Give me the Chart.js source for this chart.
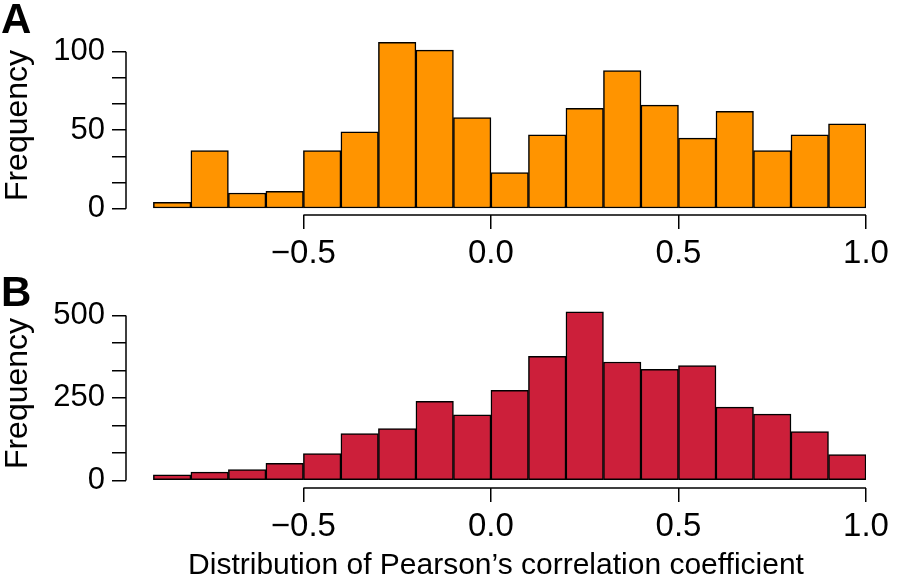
<!DOCTYPE html>
<html lang="en">
<head>
  <meta charset="UTF-8" />
  <title>Distribution of Pearson's correlation coefficient</title>
  <script src="https://cdn.jsdelivr.net/npm/chart.js"></script>
  <style>
    body { margin: 0; background: #fff; }
    #wrap { position: relative; width: 897px; height: 583px; }
    .panel { position: absolute; left: 0; width: 897px; }
  </style>
</head>
<body>
  <div id="wrap">
    <div class="panel" style="top:0;height:270px"><canvas id="histA"></canvas></div>
    <div class="panel" style="top:270px;height:313px"><canvas id="histB"></canvas></div>
  </div>

  <script>
    // bin centres (bins of width 0.1 from -0.9 to 1.0)
    const binCenters = [-0.85, -0.75, -0.65, -0.55, -0.45, -0.35, -0.25, -0.15, -0.05,
                        0.05, 0.15, 0.25, 0.35, 0.45, 0.55, 0.65, 0.75, 0.85, 0.95];
    const freqA = [4, 37, 10, 11, 37, 49, 106, 101, 58, 23, 47, 64, 88, 66, 45, 62, 37, 47, 54];
    const freqB = [17, 25, 33, 52, 81, 142, 157, 240, 199, 273, 376, 511, 359, 337, 348, 222, 201, 148, 78];

    const xTicks = [-0.5, 0, 0.5, 1.0];
    const xLabels = ['\u22120.5', '0.0', '0.5', '1.0'];
    const yTicksA = [0, 16.67, 33.33, 50, 66.67, 83.33, 100];
    const yLabelsA = ['0', '', '', '50', '', '', '100'];
    const yTicksB = [0, 83.33, 166.67, 250, 333.33, 416.67, 500];
    const yLabelsB = ['0', '', '', '250', '', '', '500'];

    const FONT = "'Liberation Sans', Arial, Helvetica, sans-serif";

    // R-style axes: line only spans the tick range, plus the panel letter
    const rAxes = {
      id: 'rAxes',
      afterDraw(chart, args, opts) {
        const ctx = chart.ctx;
        const x = chart.scales.x, y = chart.scales.y;
        ctx.save();
        ctx.strokeStyle = '#000';
        ctx.lineWidth = 1.5;
        ctx.beginPath();
        ctx.moveTo(x.getPixelForValue(xTicks[0]), x.top);
        ctx.lineTo(x.getPixelForValue(xTicks[xTicks.length - 1]), x.top);
        const yt = y.ticks;
        ctx.moveTo(y.right, y.getPixelForValue(yt[0].value));
        ctx.lineTo(y.right, y.getPixelForValue(yt[yt.length - 1].value));
        ctx.stroke();
        ctx.fillStyle = '#000';
        ctx.font = 'bold 42px ' + FONT;
        ctx.textBaseline = 'alphabetic';
        ctx.fillText(opts.letter, 1, opts.letterY);
        ctx.restore();
      }
    };

    function makePanel(id, values, color, p) {
      new Chart(document.getElementById(id), {
        type: 'bar',
        data: {
          datasets: [{
            data: binCenters.map((c, i) => ({ x: c, y: values[i] })),
            backgroundColor: color,
            borderColor: '#000',
            borderWidth: 1.5,
            borderSkipped: false,
            barPercentage: 1,
            categoryPercentage: 1
          }]
        },
        options: {
          responsive: true,
          maintainAspectRatio: false,
          animation: false,
          layout: { padding: { top: p.padTop, right: 31, bottom: 0, left: 0 } },
          plugins: {
            legend: { display: false },
            tooltip: { enabled: false },
            rAxes: { letter: p.letter, letterY: p.letterY }
          },
          scales: {
            x: {
              type: 'linear',
              min: -0.973,
              max: 1.0,
              offset: false,
              afterBuildTicks: s => { s.ticks = xTicks.map(v => ({ value: v })); },
              afterFit: s => { s.height = p.xHeight; },
              grid: { display: true, offset: false, drawOnChartArea: false, drawTicks: true,
                      tickLength: 14, color: '#000', lineWidth: 1.5 },
              border: { display: false },
              ticks: {
                autoSkip: false, maxRotation: 0, padding: 8, color: '#000',
                font: { family: FONT, size: 33, lineHeight: 1 },
                callback: (v, i) => xLabels[i]
              },
              title: {
                display: !!p.xTitle, text: p.xTitle || '', color: '#000',
                font: { family: FONT, size: 30, lineHeight: 1 },
                padding: { top: 0, bottom: 2 }
              }
            },
            y: {
              min: p.yMin,
              max: p.yMax,
              afterBuildTicks: s => { s.ticks = p.yTicks.map(v => ({ value: v })); },
              afterFit: s => { s.width = 126; },
              grid: { display: true, drawOnChartArea: false, drawTicks: true,
                      tickLength: 14, color: '#000', lineWidth: 1.5 },
              border: { display: false },
              ticks: {
                autoSkip: false, padding: 7, color: '#000',
                font: { family: FONT, size: 31, lineHeight: 1 },
                callback: (v, i) => p.yLabels[i]
              },
              title: {
                display: true, text: 'Frequency', color: '#000',
                font: { family: FONT, size: 32, lineHeight: 1 },
                padding: { top: 2, bottom: 0 }
              }
            }
          }
        },
        plugins: [rAxes]
      });
    }

    makePanel('histA', freqA, '#FF9400', {
      letter: 'A', letterY: 33, padTop: 36, xHeight: 55,
      yMin: -4, yMax: 110, yTicks: yTicksA, yLabels: yLabelsA
    });

    makePanel('histB', freqB, '#CC1F3A', {
      letter: 'B', letterY: 36, padTop: 29, xHeight: 95,
      yMin: -23, yMax: 550, yTicks: yTicksB, yLabels: yLabelsB,
      xTitle: 'Distribution of Pearson\u2019s correlation coefficient'
    });
  </script>
</body>
</html>
